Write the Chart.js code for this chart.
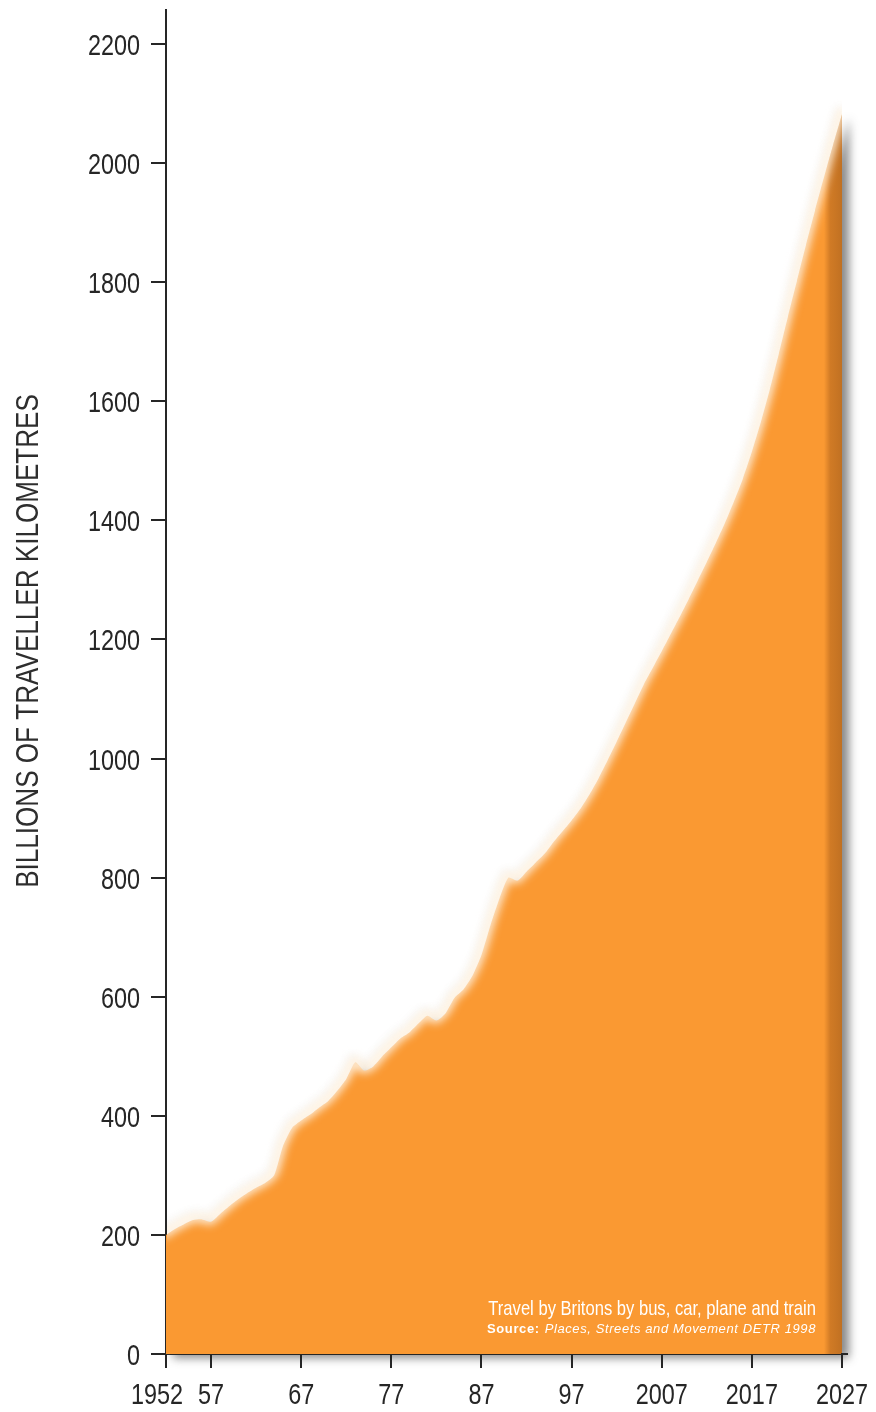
<!DOCTYPE html>
<html>
<head>
<meta charset="utf-8">
<script src="https://cdn.jsdelivr.net/npm/chart.js@4.4.1/dist/chart.umd.min.js"></script>
<style>
  html, body { margin: 0; padding: 0; background: #ffffff; }
  #wrap { width: 876px; height: 1412px; position: relative; }
</style>
</head>
<body>
<div id="wrap"><canvas id="chart" width="876" height="1412"></canvas></div>
<script>
// Travel by Britons, billions of traveller kilometres per year (projection to 2027)
const years = [
  1952, 1953, 1954, 1955, 1956, 1957, 1958, 1959, 1960, 1961,
  1962, 1963, 1964, 1965, 1966, 1967, 1968, 1969, 1970, 1971,
  1972, 1973, 1974, 1975, 1976, 1977, 1978, 1979, 1980, 1981,
  1982, 1983, 1984, 1985, 1986, 1987, 1988, 1989, 1990, 1991,
  1992, 1993, 1994, 1995, 1996, 1997, 1998, 1999, 2000, 2001,
  2002, 2003, 2004, 2005, 2006, 2007, 2008, 2009, 2010, 2011,
  2012, 2013, 2014, 2015, 2016, 2017, 2018, 2019, 2020, 2021,
  2022, 2023, 2024, 2025, 2026, 2027
];
const travelKm = [
   200,  210,  218,  225,  226,  222,  235,  248,  260,  270,
   279,  287,  300,  350,  380,  392,  402,  414,  425,  442,
   462,  490,  476,  483,  500,  515,  530,  540,  555,  568,
   560,  572,  598,  612,  635,  670,  720,  765,  800,  795,
   810,  825,  840,  860,  878,  896,  916,  940,  967,  997,
  1028, 1060, 1092, 1124, 1152, 1180, 1209, 1238, 1268, 1299,
  1330, 1362, 1395, 1431, 1470, 1515, 1565, 1620, 1680, 1742,
  1802, 1862, 1920, 1976, 2030, 2082
];
const xTicks = [1952, 1957, 1967, 1977, 1987, 1997, 2007, 2017, 2027];
const xTickLabels = ['1952', '57', '67', '77', '87', '97', '2007', '2017', '2027'];
const yTicks = [0, 200, 400, 600, 800, 1000, 1200, 1400, 1600, 1800, 2000, 2200];

const axisTitle = 'BILLIONS OF TRAVELLER KILOMETRES';
const captionTitle = 'Travel by Britons by bus, car, plane and train';
const sourceLabel = 'Source:';
const sourceText = 'Places, Streets and Movement DETR 1998';

const SANS = '"Liberation Sans", Arial, "DejaVu Sans", sans-serif';
const INK = '#262626';
const ORANGE = '#fa9932';
const NARROW_X = 0.78;   // horizontal squeeze giving a condensed look

// draw text squeezed horizontally, anchored at (x, y)
function narrowText(ctx, text, x, y, align, squeeze) {
  ctx.save();
  ctx.translate(x, y);
  ctx.scale(squeeze, 1);
  ctx.textAlign = align;
  ctx.fillText(text, 0, 0);
  ctx.restore();
}

function areaPath(ctx, meta, bottom) {
  const pts = meta.data;
  ctx.beginPath();
  meta.dataset.path(ctx);
  ctx.lineTo(pts[pts.length - 1].x, bottom);
  ctx.lineTo(pts[0].x, bottom);
  ctx.closePath();
}

// Drop shadow behind the filled area, then soft light edge and darkened right rim on top of it
const softArea = {
  id: 'softArea',
  beforeDatasetsDraw(chart) {
    const { ctx, chartArea } = chart;
    const meta = chart.getDatasetMeta(0);
    ctx.save();
    ctx.filter = 'blur(5px)';
    ctx.translate(7, 4);
    areaPath(ctx, meta, chartArea.bottom);
    ctx.fillStyle = 'rgba(40,40,40,0.55)';
    ctx.fill();
    ctx.restore();
  },
  afterDatasetsDraw(chart) {
    const { ctx, chartArea } = chart;
    const meta = chart.getDatasetMeta(0);
    const right = meta.data[meta.data.length - 1].x;

    // darker rim along the right-hand edge
    ctx.save();
    areaPath(ctx, meta, chartArea.bottom);
    ctx.clip();
    const g = ctx.createLinearGradient(right - 18, 0, right, 0);
    g.addColorStop(0, 'rgba(150,80,20,0)');
    g.addColorStop(0.35, 'rgba(150,80,20,0.42)');
    g.addColorStop(1, 'rgba(135,72,18,0.5)');
    ctx.fillStyle = g;
    ctx.fillRect(right - 18, chartArea.top, 18, chartArea.bottom - chartArea.top);
    ctx.restore();

    // soft haze along the top edge
    ctx.save();
    ctx.beginPath();
    ctx.rect(chartArea.left + 1, chartArea.top, right - chartArea.left - 1, chartArea.bottom - chartArea.top);
    ctx.clip();
    ctx.lineJoin = 'round';
    ctx.lineCap = 'round';

    ctx.save();
    ctx.filter = 'blur(4px)';
    ctx.translate(-3, -6);
    ctx.beginPath();
    meta.dataset.path(ctx);
    ctx.strokeStyle = 'rgba(150,165,195,0.16)';
    ctx.lineWidth = 4;
    ctx.stroke();
    ctx.restore();

    ctx.save();
    ctx.filter = 'blur(4px)';
    ctx.translate(-1, -2);
    ctx.beginPath();
    meta.dataset.path(ctx);
    ctx.strokeStyle = 'rgba(255,242,224,0.92)';
    ctx.lineWidth = 10;
    ctx.stroke();
    ctx.restore();

    ctx.restore();
  },
  afterDraw(chart) {
    const { ctx, chartArea } = chart;
    const xs = chart.scales.x;
    const ys = chart.scales.y;
    ctx.save();

    // x axis line runs a little past the last tick
    ctx.strokeStyle = INK;
    ctx.lineWidth = 2;
    ctx.beginPath();
    ctx.moveTo(chartArea.right - 1, chartArea.bottom);
    ctx.lineTo(chartArea.right + 6, chartArea.bottom);
    ctx.stroke();

    // tick labels in a condensed face
    ctx.fillStyle = INK;
    ctx.font = '30px ' + SANS;
    ctx.textBaseline = 'alphabetic';
    yTicks.forEach(v => {
      narrowText(ctx, String(v), 140, ys.getPixelForValue(v) + 11, 'right', NARROW_X);
    });
    xTicks.forEach((v, i) => {
      const nudge = i === 0 ? -9 : 0;
      narrowText(ctx, xTickLabels[i], xs.getPixelForValue(v) + nudge, 1404, 'center', NARROW_X);
    });

    // vertical axis title
    ctx.save();
    ctx.translate(38, 641);
    ctx.rotate(-Math.PI / 2);
    ctx.fillStyle = '#2e2e2e';
    ctx.font = '32px ' + SANS;
    narrowText(ctx, axisTitle, 0, 0, 'center', 0.815);
    ctx.restore();

    // caption inside the area
    const cx = 816;
    ctx.fillStyle = '#ffffff';
    ctx.font = '21px ' + SANS;
    narrowText(ctx, captionTitle, cx, 1315, 'right', 0.79);

    ctx.textAlign = 'right';
    ctx.font = 'italic 13px ' + SANS;
    ctx.letterSpacing = '0.6px';
    ctx.fillText(sourceText, cx, 1333);
    const w = ctx.measureText(sourceText).width;
    ctx.font = 'bold 13px ' + SANS;
    ctx.fillText(sourceLabel, cx - w - 5, 1333);
    ctx.restore();
  }
};

new Chart(document.getElementById('chart'), {
  type: 'line',
  data: {
    labels: years,
    datasets: [{
      data: years.map((y, i) => ({ x: y, y: travelKm[i] })),
      backgroundColor: ORANGE,
      borderWidth: 0,
      borderColor: 'rgba(0,0,0,0)',
      pointRadius: 0,
      tension: 0.2,
      fill: 'origin'
    }]
  },
  options: {
    responsive: false,
    animation: false,
    devicePixelRatio: 1,
    layout: { padding: { top: 10, right: 34, left: 0, bottom: 0 } },
    plugins: { legend: { display: false }, tooltip: { enabled: false } },
    scales: {
      x: {
        type: 'linear',
        min: 1952,
        max: 2027,
        z: 1,
        afterBuildTicks: s => { s.ticks = xTicks.map(v => ({ value: v })); },
        afterFit: s => { s.height = 58; },
        grid: { drawOnChartArea: false, drawTicks: true, tickLength: 14, color: INK, lineWidth: 2 },
        border: { display: true, color: INK, width: 2 },
        ticks: { display: false }
      },
      y: {
        min: 0,
        max: 2257,
        z: 1,
        afterBuildTicks: s => { s.ticks = yTicks.map(v => ({ value: v })); },
        afterFit: s => { s.width = 166; },
        grid: { drawOnChartArea: false, drawTicks: true, tickLength: 15, color: INK, lineWidth: 2 },
        border: { display: true, color: INK, width: 2 },
        ticks: { display: false }
      }
    }
  },
  plugins: [softArea]
});
</script>
</body>
</html>
